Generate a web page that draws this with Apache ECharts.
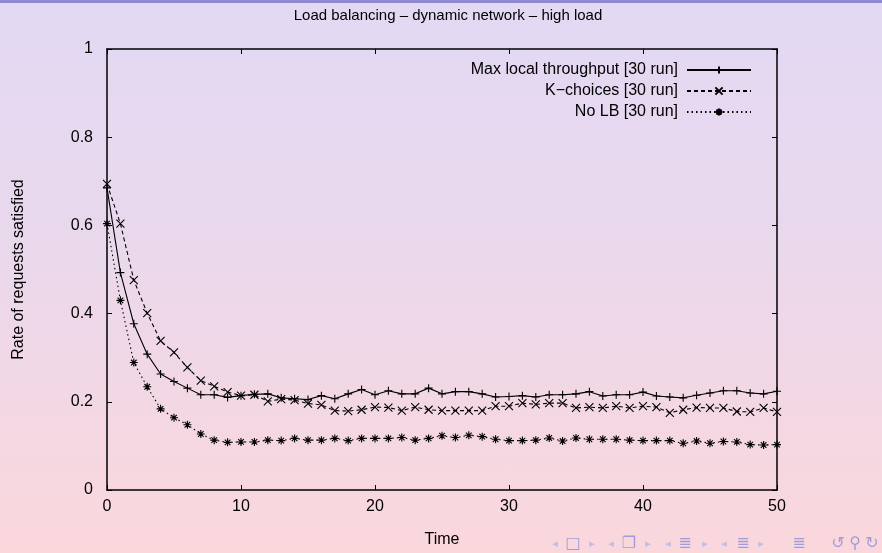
<!DOCTYPE html>
<html>
<head>
<meta charset="utf-8">
<script src="https://cdn.jsdelivr.net/npm/echarts@6/dist/echarts.min.js"></script>
<style>
  html, body { margin: 0; padding: 0; }
  body {
    width: 882px; height: 553px; overflow: hidden;
    background: linear-gradient(to bottom, #e2d9f4 0%, #ead8ec 45%, #fbd7dc 100%);
    position: relative;
  }
  #topbar { position: absolute; left: 0; top: 0; width: 882px; height: 3px; background: #8f8ad0; }
  #chart { position: absolute; left: 0; top: 0; width: 882px; height: 553px; }
</style>
</head>
<body>
<div id="topbar"></div>
<div id="chart"></div>
<script>
// time steps 0..50
const times = [
  0, 1, 2, 3, 4, 5, 6, 7, 8, 9,
  10, 11, 12, 13, 14, 15, 16, 17, 18, 19,
  20, 21, 22, 23, 24, 25, 26, 27, 28, 29,
  30, 31, 32, 33, 34, 35, 36, 37, 38, 39,
  40, 41, 42, 43, 44, 45, 46, 47, 48, 49, 50
]

const maxLocal = [
  0.685, 0.493, 0.377, 0.308, 0.263, 0.246, 0.231, 0.216, 0.216, 0.210,
  0.214, 0.217, 0.218, 0.209, 0.207, 0.205, 0.214, 0.207, 0.218, 0.228,
  0.216, 0.225, 0.218, 0.218, 0.231, 0.218, 0.223, 0.223, 0.218, 0.211,
  0.212, 0.214, 0.211, 0.216, 0.216, 0.218, 0.223, 0.213, 0.216, 0.216,
  0.222, 0.213, 0.211, 0.209, 0.215, 0.220, 0.225, 0.225, 0.220, 0.218, 0.224
]

const kChoices = [
  0.694, 0.604, 0.476, 0.401, 0.338, 0.312, 0.278, 0.248, 0.235, 0.222,
  0.214, 0.216, 0.201, 0.206, 0.204, 0.196, 0.193, 0.180, 0.179, 0.182,
  0.188, 0.187, 0.180, 0.188, 0.182, 0.180, 0.180, 0.180, 0.180, 0.190,
  0.190, 0.197, 0.194, 0.197, 0.197, 0.186, 0.188, 0.186, 0.190, 0.186,
  0.190, 0.188, 0.175, 0.182, 0.187, 0.186, 0.186, 0.178, 0.177, 0.186, 0.177
]

const noLB = [
  0.604, 0.430, 0.289, 0.234, 0.184, 0.164, 0.148, 0.127, 0.113, 0.108,
  0.109, 0.109, 0.113, 0.112, 0.117, 0.113, 0.113, 0.117, 0.112, 0.117,
  0.117, 0.117, 0.119, 0.113, 0.117, 0.123, 0.119, 0.124, 0.121, 0.115,
  0.112, 0.112, 0.113, 0.118, 0.111, 0.118, 0.115, 0.115, 0.115, 0.113,
  0.112, 0.112, 0.112, 0.106, 0.111, 0.106, 0.110, 0.109, 0.103, 0.102, 0.103
]

const seriesNames = ['Max local throughput [30 run]', 'K\u2212choices [30 run]', 'No LB [30 run]']

// beamer navigation glyphs in the bottom right corner
const navGlyphs = ['\u25C2', '\u25A1', '\u25B8', '\u25C2', '\u2750', '\u25B8', '\u25C2', '\u2263', '\u25B8', '\u25C2', '\u2263', '\u25B8', '\u2263', '\u21BA', '\u26B2', '\u21BB']
const navX = [555, 573, 592, 611, 629, 648, 668, 685, 705, 724, 743, 761, 799, 838, 855, 872]

// gnuplot-like point markers: +, x, *
const plusPath = 'path://M0,5L10,5M5,0L5,10'
const crossPath = 'path://M0,0L10,10M10,0L0,10'
const starPath = 'path://M0,5L10,5M5,0L5,10M1.5,1.5L8.5,8.5M8.5,1.5L1.5,8.5'

const font = '"Liberation Sans", Arial, sans-serif'

function makeSeries (name, values, symbol, dash) {
  return {
    name: name,
    type: 'line',
    data: times.map((t, i) => [t, values[i]]),
    symbol: symbol,
    symbolSize: 8,
    showAllSymbol: true,
    lineStyle: { color: '#000', width: 1.1, type: dash },
    itemStyle: { color: 'rgba(0,0,0,0)', borderColor: '#000', borderWidth: 1.1 },
    emphasis: { disabled: true },
    animation: false
  }
}

const chart = echarts.init(document.getElementById('chart'), null, { renderer: 'canvas' })

const axisLine = { show: true, onZero: false, lineStyle: { color: '#000', width: 1.5 } }
const tick = { show: true, inside: true, length: 5, lineStyle: { color: '#000', width: 1 } }

chart.setOption({
  backgroundColor: 'transparent',
  animation: false,
  textStyle: { fontFamily: font },
  title: {
    text: 'Load balancing \u2013 dynamic network \u2013 high load',
    left: 443,
    textAlign: 'center',
    top: 3,
    textStyle: { fontFamily: font, fontSize: 15, fontWeight: 'normal', color: '#000' }
  },
  grid: { left: 107, top: 49, width: 670, height: 443 },
  legend: {
    orient: 'vertical',
    right: 125,
    top: 57,
    align: 'right',
    itemWidth: 64,
    itemHeight: 9,
    itemGap: 5,
    data: seriesNames,
    selectedMode: false,
    textStyle: { fontFamily: font, fontSize: 16, color: '#000', padding: [0, 4, 0, 0] }
  },
  xAxis: [
    {
      type: 'value', min: 0, max: 50, interval: 10,
      name: 'Time', nameLocation: 'middle', nameGap: 42,
      nameTextStyle: { fontFamily: font, fontSize: 16, color: '#000' },
      axisLine: axisLine, axisTick: tick, splitLine: { show: false },
      axisLabel: { fontFamily: font, fontSize: 16, color: '#000', margin: 9 }
    },
    {
      type: 'value', min: 0, max: 50, interval: 10, position: 'top',
      axisLine: axisLine, axisTick: tick, splitLine: { show: false },
      axisLabel: { show: false }
    }
  ],
  yAxis: [
    {
      type: 'value', min: 0, max: 1, interval: 0.2,
      name: 'Rate of requests satisfied', nameLocation: 'middle', nameGap: 80,
      nameTextStyle: { fontFamily: font, fontSize: 16, color: '#000' },
      axisLine: axisLine, axisTick: tick, splitLine: { show: false },
      axisLabel: { fontFamily: font, fontSize: 16, color: '#000', margin: 14 }
    },
    {
      type: 'value', min: 0, max: 1, interval: 0.2, position: 'right',
      axisLine: axisLine, axisTick: tick, splitLine: { show: false },
      axisLabel: { show: false }
    }
  ],
  graphic: navGlyphs.map((g, i) => ({
    type: 'text',
    x: navX[i],
    y: 544,
    style: {
      text: g,
      font: (g === '\u25C2' || g === '\u25B8' ? '11px' : '16px') + ' "DejaVu Sans"',
      fill: (g === '\u25C2' || g === '\u25B8') ? '#c0bce6' : '#a09cdc',
      align: 'center',
      verticalAlign: 'middle'
    }
  })),
  series: [
    makeSeries(seriesNames[0], maxLocal, plusPath, 'solid'),
    makeSeries(seriesNames[1], kChoices, crossPath, [4, 3]),
    makeSeries(seriesNames[2], noLB, starPath, [1.5, 3])
  ]
})
</script>
</body>
</html>
